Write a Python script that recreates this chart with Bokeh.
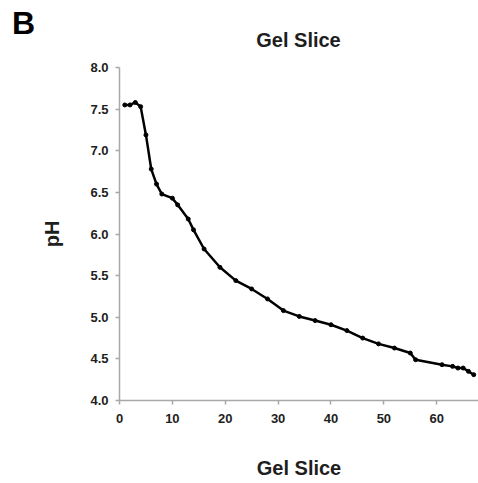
from bokeh.plotting import figure
from bokeh.models import ColumnDataSource, Range1d, FixedTicker, NumeralTickFormatter, Div
from bokeh.layouts import column
from bokeh.embed import file_html
from bokeh.resources import INLINE

# Data
gel_slice = [1, 2, 3, 4, 5, 6, 7, 8, 10, 11, 13, 14, 16, 19, 22, 25, 28, 31, 34, 37,
             40, 43, 46, 49, 52, 55, 56, 61, 63, 64, 65, 66, 67]
ph_values = [7.55, 7.55, 7.58, 7.53, 7.19, 6.78, 6.60, 6.48, 6.43, 6.35, 6.18, 6.05, 5.82,
             5.60, 5.44, 5.34, 5.22, 5.08, 5.01, 4.96, 4.91, 4.84, 4.75, 4.68, 4.63, 4.57,
             4.49, 4.43, 4.41, 4.39, 4.39, 4.35, 4.31]
x_ticks = [0, 10, 20, 30, 40, 50, 60]
y_ticks = [4.0, 4.5, 5.0, 5.5, 6.0, 6.5, 7.0, 7.5, 8.0]
panel_letter = "B"
title_text = "Gel Slice"

FONT = "Liberation Sans"
AXIS_GRAY = "#a8a8a8"
TEXT = "#1e1e1e"

src = ColumnDataSource(data=dict(x=gel_slice, y=ph_values))

HEAD = 58
p = figure(width=478, height=483 - HEAD, output_backend="svg", toolbar_location=None,
           x_range=Range1d(0, 67.9), y_range=Range1d(4.0, 8.0),
           min_border_left=119, min_border_right=0, min_border_top=67 - HEAD,
           min_border_bottom=83, margin=0)
p.outline_line_color = None
p.background_fill_color = "white"
p.border_fill_color = "white"
p.xgrid.grid_line_color = None
p.ygrid.grid_line_color = None

p.line("x", "y", source=src, line_color="black", line_width=2.5)
p.scatter("x", "y", source=src, size=4, color="black")

for ax in (p.xaxis[0], p.yaxis[0]):
    ax.axis_line_color = AXIS_GRAY
    ax.axis_line_width = 1.5
    ax.major_tick_line_color = AXIS_GRAY
    ax.major_tick_line_width = 1.5
    ax.major_tick_in = 0
    ax.major_tick_out = 4
    ax.minor_tick_line_color = None
    ax.major_label_text_font = FONT
    ax.major_label_text_font_size = "13px"
    ax.major_label_text_font_style = "bold"
    ax.major_label_text_color = TEXT
    ax.axis_label_text_font = FONT
    ax.axis_label_text_font_size = "20px"
    ax.axis_label_text_font_style = "bold"
    ax.axis_label_text_color = TEXT

p.xaxis[0].ticker = FixedTicker(ticks=x_ticks)
p.yaxis[0].ticker = FixedTicker(ticks=y_ticks)
p.yaxis[0].formatter = NumeralTickFormatter(format="0.0")
p.xaxis[0].axis_label = "Gel Slice"
p.yaxis[0].axis_label = "pH"
p.xaxis[0].major_label_standoff = 9
p.yaxis[0].major_label_standoff = 7
p.xaxis[0].axis_label_standoff = 31
p.yaxis[0].axis_label_standoff = 24

head_html = (
    '<div style="position:relative; width:478px; height:%dpx; '
    'font-family:\'Liberation Sans\'; font-weight:bold;">'
    '<span style="position:absolute; left:12px; top:7px; font-size:32px; '
    'line-height:32px; color:black;">%s</span>'
    '<span style="position:absolute; left:119px; width:359px; top:30px; '
    'text-align:center; font-size:20px; line-height:20px; color:%s;">%s</span>'
    '</div>' % (HEAD, panel_letter, TEXT, title_text)
)
header = Div(text=head_html, width=478, height=HEAD, margin=0)

layout = column(header, p, spacing=0, margin=0)
open("out.html", "w").write(file_html(layout, INLINE))
